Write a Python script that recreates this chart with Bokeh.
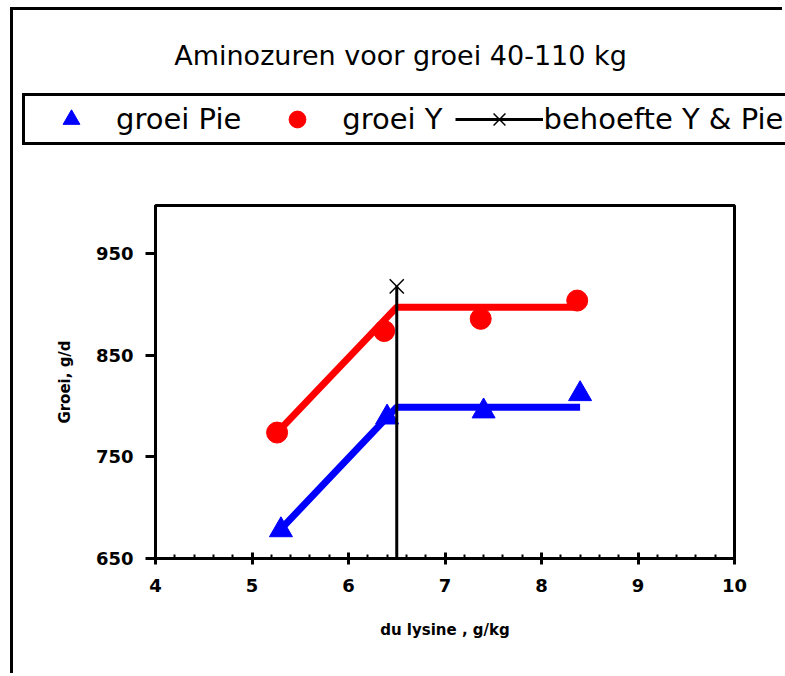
from bokeh.plotting import figure
from bokeh.models import Range1d, FixedTicker, SingleIntervalTicker, Legend, LegendItem, Label
from bokeh.embed import file_html
from bokeh.resources import INLINE

# ---- data ----
lysine_pie = [5.3, 6.4, 7.4, 8.4]
groei_pie = [678, 789, 795, 812]
lysine_y = [5.26, 6.37, 7.37, 8.37]
groei_y = [774, 874, 886, 904]
fit_pie_x = [5.3, 6.5, 8.4]
fit_pie_y = [679, 799, 799]
fit_y_x = [5.26, 6.5, 8.4]
fit_y_y = [774, 897.5, 897.5]
behoefte_x = [6.5, 6.5]
behoefte_y = [650, 918]
y_ticks = [650, 750, 850, 950]

title_text = "Aminozuren voor groei 40-110 kg"
x_label = "du lysine , g/kg"
y_label = "Groei, g/d"
legend_labels = ["groei Pie", "groei Y", "behoefte Y & Pie"]

BLUE = "#0000FF"
RED = "#FF0000"

# ---------------- header (title + legend) ----------------
top = figure(width=772, height=140, output_backend="svg", toolbar_location=None, title=None,
             x_range=Range1d(0, 1), y_range=Range1d(0, 1),
             x_axis_location=None, y_axis_location=None,
             min_border=0, min_border_left=0, min_border_right=0,
             min_border_top=0, min_border_bottom=0, outline_line_color=None,
             background_fill_color="white", border_fill_color="white")
top.xgrid.visible = False
top.ygrid.visible = False
top.styles = {"vertical-align": "top", "margin-left": "10px", "margin-top": "7px",
              "border-left": "3px solid black", "border-top": "3px solid black"}

# legend proxies: the same series, lying outside the header's ranges
l_pie = top.scatter(lysine_pie, groei_pie, marker="triangle", fill_color=BLUE, line_color=BLUE)
l_y = top.scatter(lysine_y, groei_y, marker="circle", fill_color=RED, line_color=RED)
l_beh = top.line(behoefte_x, behoefte_y, line_color="black", line_width=3)
l_behx = top.scatter(behoefte_x, behoefte_y, marker="x", line_color="black", line_width=1.5)

legend = Legend(items=[
    LegendItem(label=legend_labels[0], renderers=[l_pie]),
    LegendItem(label=legend_labels[1], renderers=[l_y]),
    LegendItem(label=legend_labels[2], renderers=[l_beh, l_behx]),
], location=(9, 5), orientation="horizontal",
    glyph_width=88, glyph_height=42, padding=2, spacing=12, label_standoff=1,
    label_text_font="DejaVu Sans", label_text_font_size="29px", label_text_color="black",
    border_line_color="black", border_line_width=3, border_line_alpha=1,
    background_fill_color="white", background_fill_alpha=1, margin=0)
top.add_layout(legend)

title = Label(x=387, y=95, x_units="screen", y_units="screen", text=title_text,
              text_align="center", text_baseline="alphabetic",
              text_font="DejaVu Sans", text_font_size="27px", text_color="black")
top.add_layout(title)

# ---------------- main chart ----------------
p = figure(width=772, height=526, output_backend="svg", toolbar_location=None, title=None,
           x_range=Range1d(4, 10), y_range=Range1d(650, 997.6),
           min_border_left=142, min_border_right=51, min_border_top=58, min_border_bottom=115,
           background_fill_color="white", border_fill_color="white")
p.styles = {"vertical-align": "top", "margin-left": "10px", "border-left": "3px solid black"}

p.xgrid.visible = False
p.ygrid.visible = False
p.outline_line_color = "black"
p.outline_line_width = 3
p.outline_line_alpha = 1

p.xaxis.ticker = SingleIntervalTicker(interval=1, num_minor_ticks=5)
p.yaxis.ticker = FixedTicker(ticks=y_ticks, minor_ticks=[])

for ax in (p.xaxis[0], p.yaxis[0]):
    ax.axis_line_width = 3
    ax.axis_line_color = "black"
    ax.major_tick_line_width = 3
    ax.major_tick_line_color = "black"
    ax.minor_tick_line_width = 2
    ax.minor_tick_line_color = "black"
    ax.major_label_text_font = "DejaVu Sans"
    ax.major_label_text_font_style = "bold"
    ax.major_label_text_font_size = "18px"
    ax.major_label_text_color = "black"
    ax.axis_label_text_font = "DejaVu Sans"
    ax.axis_label_text_font_style = "bold"
    ax.axis_label_text_font_size = "15px"
    ax.axis_label_text_color = "black"

p.xaxis.major_tick_in = 6
p.xaxis.major_tick_out = 6
p.xaxis.minor_tick_in = 4
p.xaxis.minor_tick_out = 0
p.xaxis.major_label_standoff = 14
p.xaxis.axis_label = x_label
p.xaxis.axis_label_standoff = 26

p.yaxis.major_tick_in = 0
p.yaxis.major_tick_out = 10
p.yaxis.major_label_standoff = 12
p.yaxis.axis_label = y_label
p.yaxis.axis_label_standoff = 19

p.line(fit_pie_x, fit_pie_y, line_color=BLUE, line_width=7)
p.line(fit_y_x, fit_y_y, line_color=RED, line_width=7)
p.scatter(lysine_pie, groei_pie, marker="triangle", size=23, fill_color=BLUE, line_color=BLUE)
p.scatter(lysine_y, groei_y, marker="circle", size=21, fill_color=RED, line_color=RED)
p.line(behoefte_x, behoefte_y, line_color="black", line_width=3)
p.scatter(behoefte_x[-1:], behoefte_y[-1:], marker="x", size=20,
          line_color="black", line_width=1.5)

open("out.html", "w").write(file_html([top, p], INLINE))
